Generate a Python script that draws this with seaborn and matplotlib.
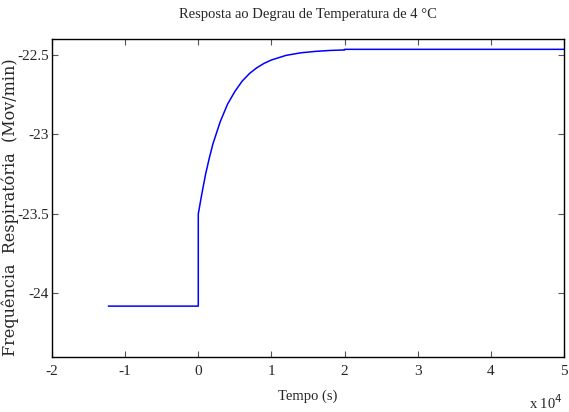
import numpy as np
import pandas as pd
import matplotlib
matplotlib.use("Agg")
import matplotlib.pyplot as plt
import seaborn as sns
from matplotlib.ticker import FuncFormatter

# Step response of respiratory frequency to a 4 degree temperature step
tempo_s = [-12300, 0, 0, 500, 1000, 1500, 2000, 3000, 4000, 5000, 6000, 7000,
           8000, 9000, 10000, 12000, 14000, 16000, 18000, 20000, 20000, 50000]
freq_resp = [-24.08, -24.08, -23.50, -23.37, -23.25, -23.15, -23.06, -22.92,
             -22.81, -22.73, -22.665, -22.617, -22.581, -22.553, -22.532,
             -22.503, -22.487, -22.478, -22.472, -22.469, -22.465, -22.465]

titulo = "Resposta ao Degrau de Temperatura de 4 \u00b0C"
rotulo_x = "Tempo (s)"
rotulo_y = "Frequ\u00eancia  Respirat\u00f3ria  (Mov/min)"
x_ticks = [-2, -1, 0, 1, 2, 3, 4, 5]
y_ticks = [-24, -23.5, -23, -22.5]

sns.set_style("ticks")
plt.rcParams["font.family"] = ["Liberation Serif", "DejaVu Serif"]

df = pd.DataFrame({"t": tempo_s, "f": freq_resp})

fig = plt.figure(figsize=(5.69, 4.12), dpi=100)
ax = fig.add_axes([52 / 569, 55 / 412, 512 / 569, 318 / 412])

sns.lineplot(data=df, x="t", y="f", ax=ax, estimator=None, sort=False,
             color="#0000ff", linewidth=1.1)

ax.set_xlim(-20000, 50000)
ax.set_ylim(-24.4, -22.4)
ax.set_xticks([v * 1e4 for v in x_ticks])
ax.xaxis.set_major_formatter(FuncFormatter(lambda v, p: f"{v / 1e4:g}"))
ax.set_yticks(y_ticks)
ax.yaxis.set_major_formatter(FuncFormatter(lambda v, p: f"{v:g}"))

ax.tick_params(direction="in", top=True, right=True, length=4, width=0.8,
               color="#555555", labelsize=11)
ax.tick_params(axis="y", pad=2)
ax.tick_params(axis="x", pad=6)
for s in ax.spines.values():
    s.set_linewidth(1.0)
    s.set_color("black")

ax.set_title(titulo, fontsize=10.5, pad=15)
ax.set_xlabel(rotulo_x, fontsize=10.5, labelpad=8)
ax.set_ylabel(rotulo_y, fontsize=11.5, family="DejaVu Serif")
ax.yaxis.set_label_coords(-0.064, 0.47)
fig.text(563 / 569, 1 - 403 / 412, "x 10$^{4}$", fontsize=10.5,
         va="center", ha="right")

fig.savefig("out.png", dpi=100)
